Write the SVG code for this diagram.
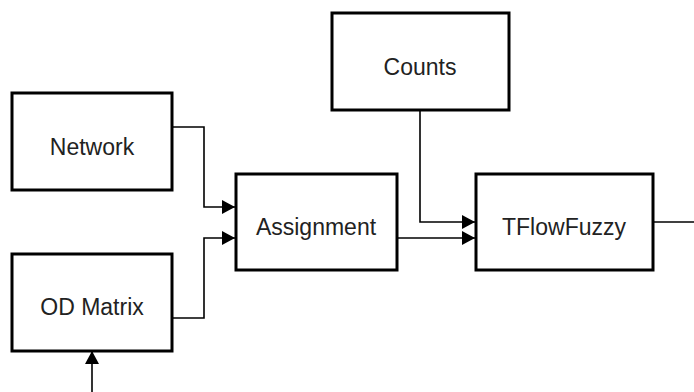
<svg xmlns="http://www.w3.org/2000/svg" width="694" height="392" viewBox="0 0 694 392">
<defs>
<marker id="arr" markerWidth="16" markerHeight="16" refX="13" refY="7" orient="auto" markerUnits="userSpaceOnUse">
<path d="M0,0 L13,7 L0,14 Z" fill="#000"/>
</marker>
<style>
.box{fill:#fff;stroke:#000;stroke-width:3}
.lbl{font-family:"Liberation Sans",Arial,sans-serif;font-size:23px;fill:#222;text-anchor:middle;dominant-baseline:central}
.c{fill:none;stroke:#000;stroke-width:1.6}
</style>
</defs>
<rect width="694" height="392" fill="#fff"/>
<g id="connectors">
<path class="c" d="M172,127 H204 V207 H235" marker-end="url(#arr)"/>
<path class="c" d="M172,318 H204 V238 H235" marker-end="url(#arr)"/>
<path class="c" d="M92,392 V351" marker-end="url(#arr)"/>
<path class="c" d="M397,238 H475" marker-end="url(#arr)"/>
<path class="c" d="M420,110 V222 H475" marker-end="url(#arr)"/>
<path class="c" d="M653,222 H694"/>
</g>
<g id="network"><rect class="box" x="12" y="93" width="160" height="97"/><text class="lbl" x="92" y="147">Network</text></g>
<g id="odmatrix"><rect class="box" x="12" y="254" width="160" height="97"/><text class="lbl" x="92" y="307">OD Matrix</text></g>
<g id="assignment"><rect class="box" x="236" y="174" width="161" height="96"/><text class="lbl" x="316" y="227">Assignment</text></g>
<g id="counts"><rect class="box" x="332" y="13" width="177" height="97"/><text class="lbl" x="420" y="67">Counts</text></g>
<g id="tflowfuzzy"><rect class="box" x="476" y="174" width="177" height="96"/><text class="lbl" x="564" y="227">TFlowFuzzy</text></g>
</svg>
